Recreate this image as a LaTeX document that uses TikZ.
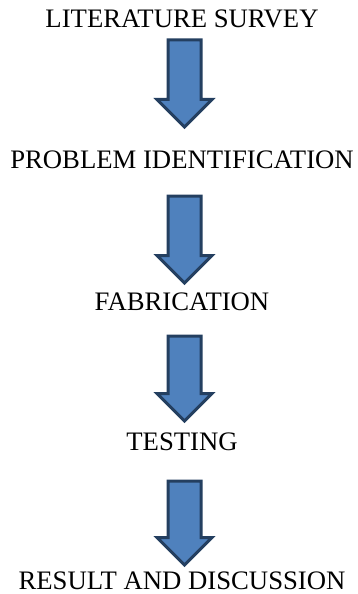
\documentclass[tikz,border=0pt]{standalone}
\usepackage{fontspec}
\setmainfont{Liberation Serif}
\usetikzlibrary{shapes.arrows,positioning}
\definecolor{arrowfill}{HTML}{4F81BD}
\definecolor{arrowline}{HTML}{243F60}
\tikzstyle{stage} = [rectangle, draw=none, inner sep=0pt, text centered, font=\fontsize{26.7}{30}\selectfont]
\tikzstyle{downarrow} = [single arrow, draw=arrowline, fill=arrowfill, line width=3pt, inner sep=15pt, minimum height=86pt, single arrow head extend=11pt, shape border rotate=270, anchor=tail]

\begin{document}
\begin{tikzpicture}[x=1pt, y=1pt]
\useasboundingbox (0,0) rectangle (357,-594);

\node (survey) [stage] at (182,-18.5) {LITERATURE SURVEY};
\node (problem) [stage, below of=survey, node distance=141pt] {PROBLEM IDENTIFICATION};
\node (fab) [stage, below of=problem, node distance=142pt] {FABRICATION};
\node (test) [stage, below of=fab, node distance=140pt] {TESTING};
\node (result) [stage, below of=test, node distance=139pt] {RESULT AND DISCUSSION};

%arrows
\node (arr1) [downarrow, minimum height=87pt] at (184.5,-38.5) {};
\node (arr2) [downarrow, minimum height=87pt] at (184.5,-194.5) {};
\node (arr3) [downarrow, minimum height=85pt] at (184.5,-334.5) {};
\node (arr4) [downarrow, minimum height=84pt] at (184.5,-479.5) {};

\end{tikzpicture}
\end{document}
